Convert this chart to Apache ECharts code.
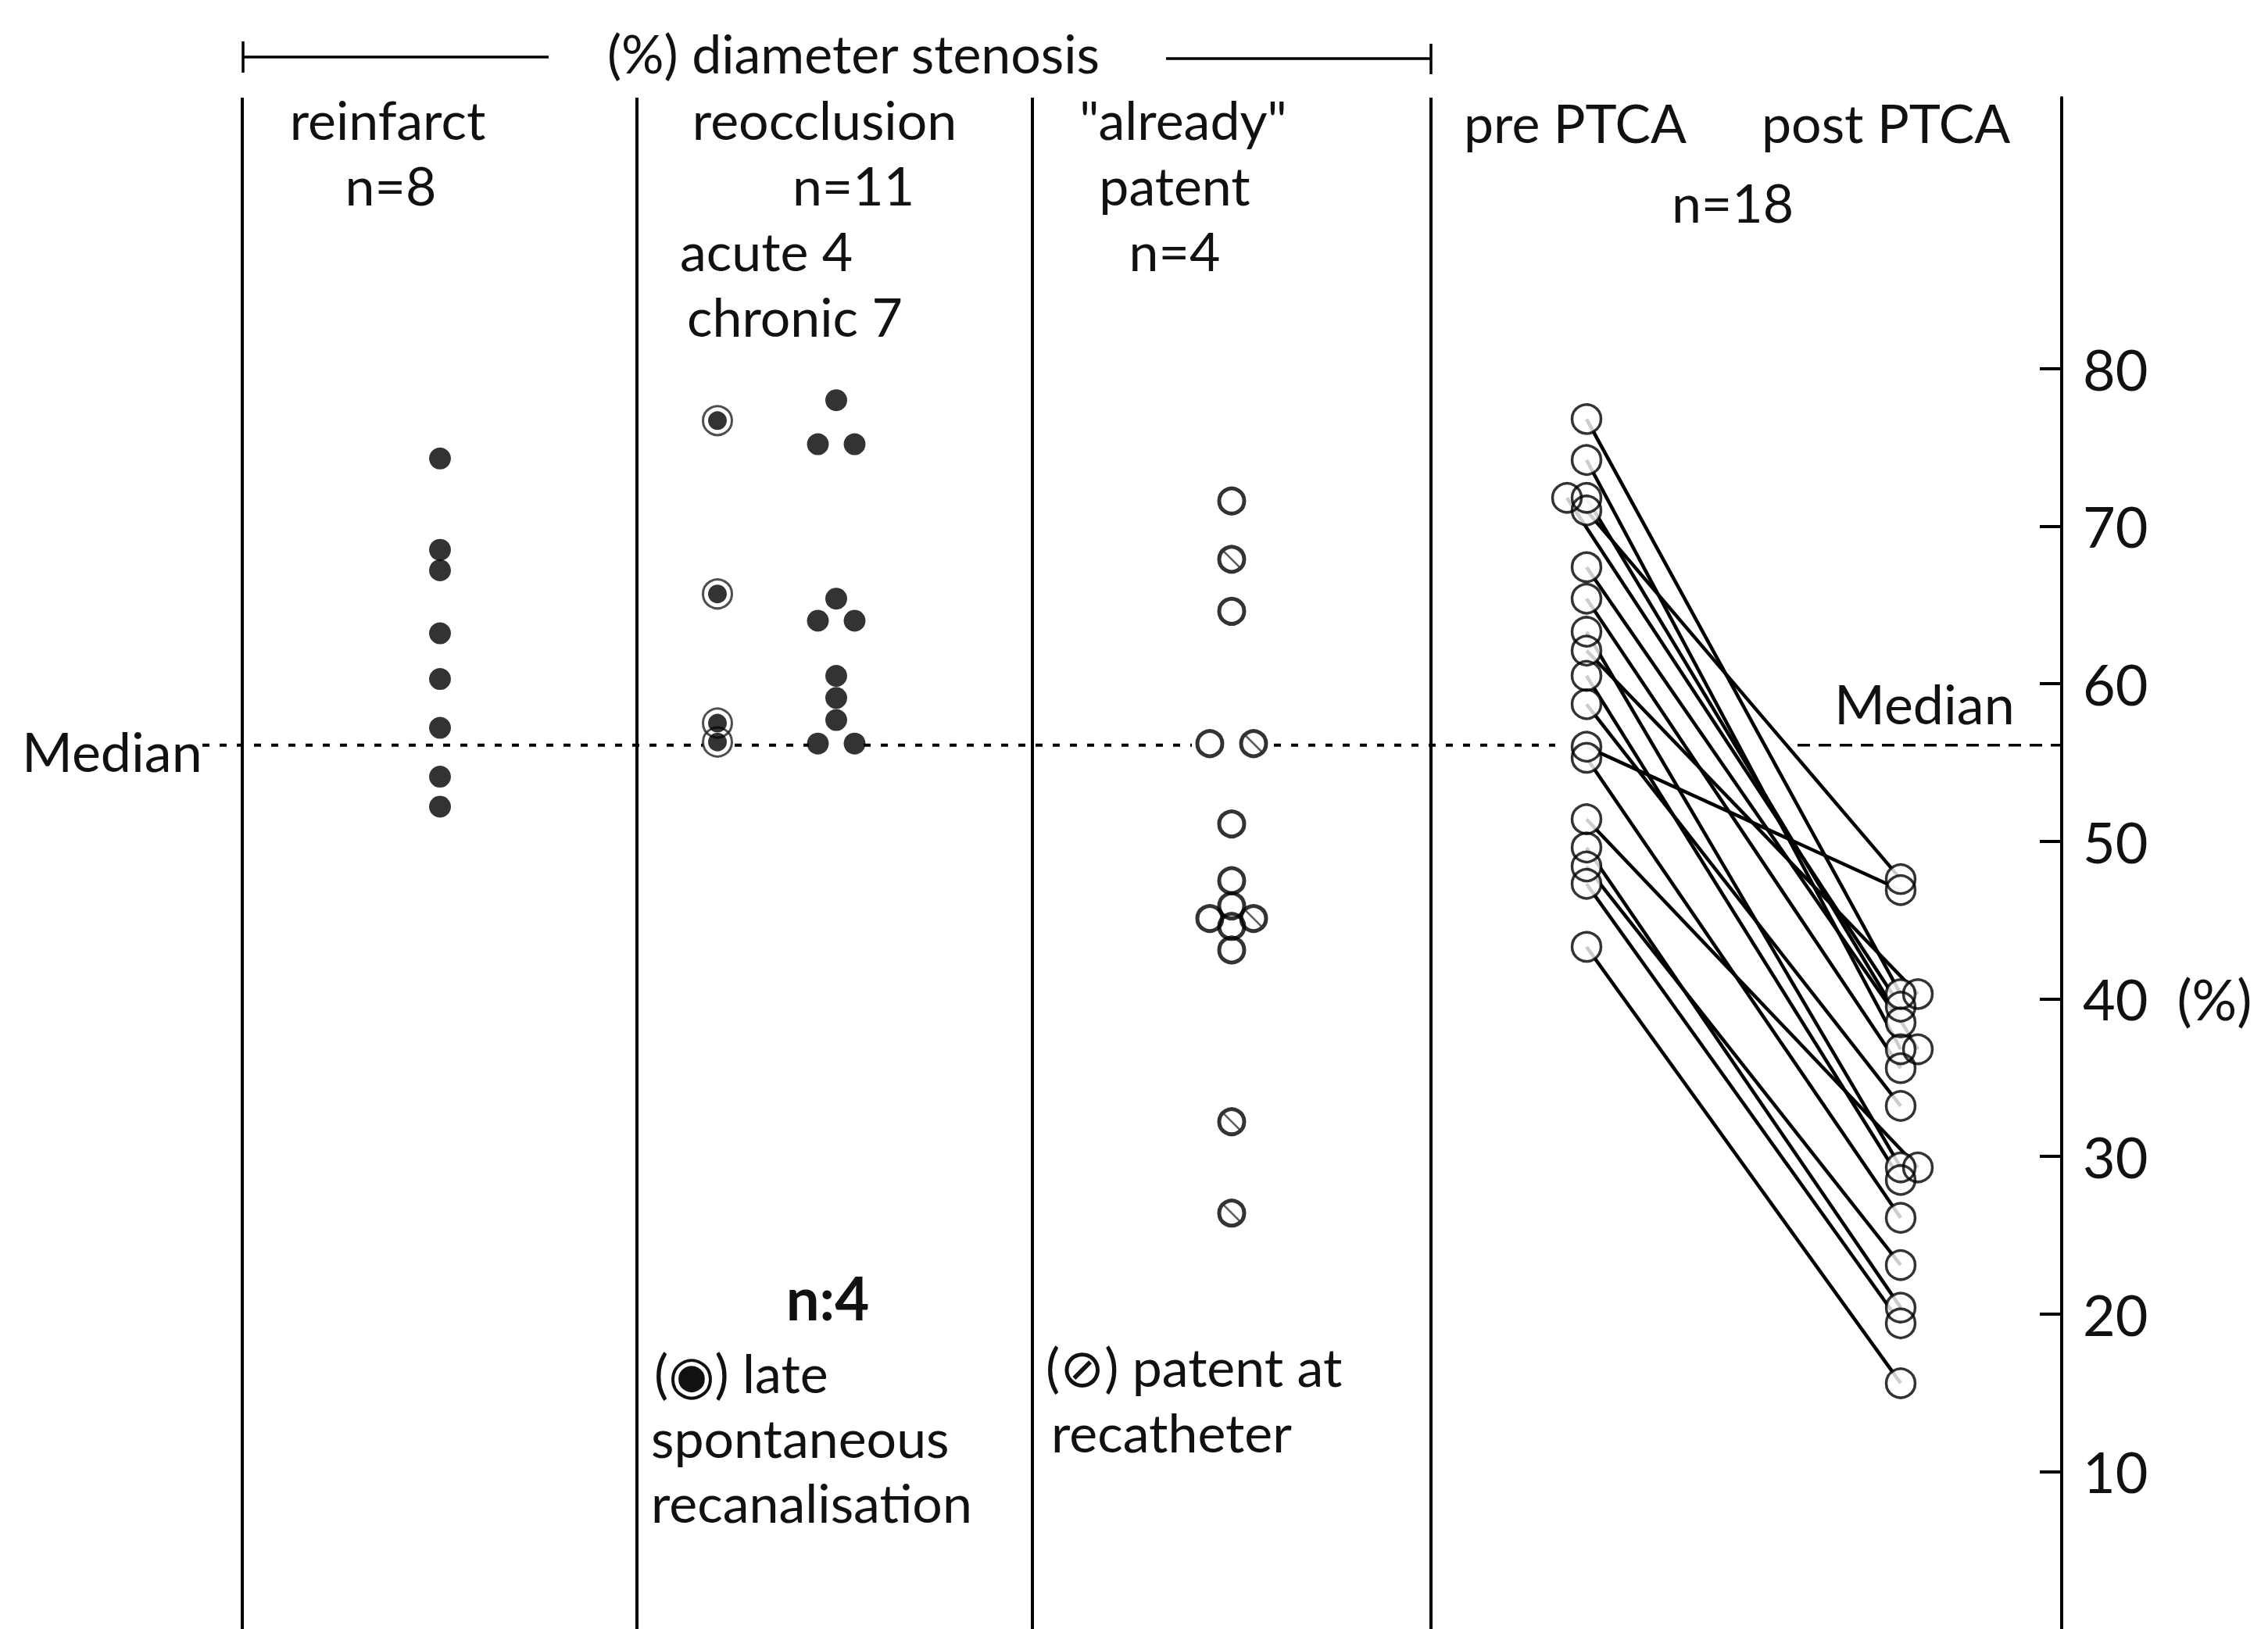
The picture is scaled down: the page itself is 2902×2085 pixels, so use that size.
<!DOCTYPE html>
<html><head><meta charset="utf-8">
<script src="https://cdn.jsdelivr.net/npm/echarts@6/dist/echarts.min.js"></script>
<style>html,body{margin:0;padding:0;background:#fff}#c{width:2902px;height:2085px}</style>
</head><body><div id="c"></div>
<script>
// ---------------- data (% diameter stenosis) ----------------
const yTicks = [10, 20, 30, 40, 50, 60, 70, 80];
const medianValue = 56.1;
const reinfarct = [74.3, 68.5, 67.2, 63.2, 60.3, 57.2, 54.1, 52.2];
const reocclusionLate = [76.7, 65.7, 57.5, 56.3];          // (◉) late spontaneous recanalisation
const reocclusionDots = [78.0, 75.2, 75.2, 65.4, 64.0, 64.0, 60.5, 59.1, 57.7, 56.2, 56.2];
const patentOpen = [71.6, 64.6, 56.2, 51.1, 47.5, 45.9, 45.1, 44.6, 43.1];
const patentRecath = [67.9, 56.2, 45.1, 32.2, 26.4];      // (⊘) patent at recatheter
const ptcaPre  = [76.8, 74.2, 71.8, 71.8, 71.0, 67.4, 65.4, 63.3, 62.1, 60.5, 58.7, 56.0, 55.3, 51.4, 49.6, 48.4, 47.3, 43.3];
const ptcaPost = [40.3, 36.8, 36.8, 39.5, 47.6, 38.5, 35.6, 29.3, 40.3, 28.5, 33.2, 46.9, 26.1, 29.3, 20.4, 23.1, 19.4, 15.6];

// ---------------- layout (pixels) ----------------
const L = {
  gridTop: 125, pxPerUnit: 20.306, yMax: 97.2, axisX: 2638,
  reinfarctX: 563, lateX: 918, chronicX: 1070, patentX: 1576, preX: 2030, postX: 2432,
  dividers: [310, 815, 1321, 1831],
  medianLeft: [[259, 900], [940, 1035], [1105, 1525], [1630, 1990]],
  medianRight: [[2300, 2638]],
  font: 'Lato, "DejaVu Sans", sans-serif', fs: 68
};

function dodge(values, spacing, mode) {
  const counts = {}, seen = {};
  values.forEach(v => counts[v] = (counts[v] || 0) + 1);
  return values.map(v => {
    const i = seen[v] = (seen[v] === undefined ? 0 : seen[v] + 1);
    const n = counts[v];
    return mode === 'sym' ? (i - (n - 1) / 2) * spacing : i * spacing * mode;
  });
}
const pts = (x0, vals, offs) => vals.map((v, i) => [x0 + (offs ? offs[i] : 0), v]);

const chronicOff = dodge(reocclusionDots, 47, 'sym');
const patentAll = patentOpen.concat(patentRecath);
const patentOff = dodge(patentAll, 56, 'sym');
const patentOpenPts = pts(L.patentX, patentOpen, patentOff.slice(0, patentOpen.length));
const patentRecPts = pts(L.patentX, patentRecath, patentOff.slice(patentOpen.length));
const preOff = dodge(ptcaPre, 25, -1);
const postOff = dodge(ptcaPost, 22, 1);
const prePts = pts(L.preX, ptcaPre, preOff);
const postPts = pts(L.postX, ptcaPost, postOff);

const black = '#000';
const ink = '#111';
const clear = 'rgba(0,0,0,0)';
const series = [];

// column dividers
series.push({
  type: 'scatter', data: [], silent: true,
  markLine: { silent: true, symbol: ['none', 'none'], label: { show: false },
    lineStyle: { type: 'solid', color: black, width: 4 },
    data: L.dividers.map(x => ({ xAxis: x })) }
});
// median segments
L.medianLeft.forEach(s => series.push({ type: 'line', symbol: 'none', silent: true, z: 1,
  data: [[s[0], medianValue], [s[1], medianValue]], lineStyle: { color: black, width: 4, type: [9, 13] } }));
L.medianRight.forEach(s => series.push({ type: 'line', symbol: 'none', silent: true, z: 1,
  data: [[s[0], medianValue], [s[1], medianValue]], lineStyle: { color: black, width: 3.5, type: [16, 11] } }));

// reinfarct
series.push({ type: 'scatter', symbol: 'circle', symbolSize: 28, z: 3,
  data: pts(L.reinfarctX, reinfarct), itemStyle: { color: black } });
// reocclusion late recanalisation (ring + dot)
series.push({ type: 'scatter', symbol: 'circle', symbolSize: 37, z: 3,
  data: pts(L.lateX, reocclusionLate), itemStyle: { color: clear, borderColor: '#222', borderWidth: 3 } });
series.push({ type: 'scatter', symbol: 'circle', symbolSize: 24, z: 4,
  data: pts(L.lateX, reocclusionLate), itemStyle: { color: black } });
// reocclusion dots
series.push({ type: 'scatter', symbol: 'circle', symbolSize: 28, z: 3,
  data: pts(L.chronicX, reocclusionDots, chronicOff), itemStyle: { color: black } });
// already patent
series.push({ type: 'scatter', symbol: 'circle', symbolSize: 32, z: 3,
  data: patentOpenPts.concat(patentRecPts), itemStyle: { color: clear, borderColor: black, borderWidth: 5 } });
series.push({ type: 'scatter', symbol: 'path://M0,0L10,10', symbolSize: 20, z: 4,
  data: patentRecPts, itemStyle: { color: clear, borderColor: '#333', borderWidth: 2.5 } });

// PTCA lines
prePts.forEach((p, i) => series.push({ type: 'line', symbol: 'none', silent: true, z: 2,
  data: [p, postPts[i]], lineStyle: { color: black, width: 4.5 } }));
// PTCA circles: white fill then outlines
series.push({ type: 'scatter', symbol: 'circle', symbolSize: 37, z: 5,
  data: prePts.concat(postPts), itemStyle: { color: '#fff' } });
series.push({ type: 'scatter', symbol: 'circle', symbolSize: 37, z: 6,
  data: prePts.concat(postPts), itemStyle: { color: clear, borderColor: black, borderWidth: 3.5 } });

function txt(text, x, y, align, extra) {
  return { type: 'text', x: x, y: y, silent: true,
    style: Object.assign({ text: text, align: align || 'center', verticalAlign: 'middle',
      fontSize: L.fs, fontFamily: L.font, fill: ink }, extra || {}) };
}
function ln(x1, y1, x2, y2, w) {
  return { type: 'line', silent: true, shape: { x1, y1, x2, y2 }, style: { stroke: black, lineWidth: w || 3.5 } };
}

const graphic = [
  ln(311, 73, 702, 73), ln(311, 53, 311, 93),
  ln(1492, 75, 1831, 75), ln(1831, 56, 1831, 95),
  txt('(%) diameter stenosis', 1092, 67),
  txt('reinfarct', 496, 152), txt('n=8', 500, 236),
  txt('reocclusion', 1055, 152), txt('n=11', 1092, 236),
  txt('acute 4', 870, 320, 'left'), txt('chronic 7', 879, 404, 'left'),
  txt('"already"', 1514, 152), txt('patent', 1503, 236), txt('n=4', 1503, 320),
  txt('pre PTCA', 1873, 156, 'left'), txt('post PTCA', 2254, 156, 'left'), txt('n=18', 2217, 258),
  txt('Median', 28, 961, 'left', { fontSize: 70 }), txt('Median', 2347, 900, 'left', { fontSize: 70 }),
  txt('n:4', 1059, 1660, 'center', { fontWeight: 'bold', fontSize: 76 }),
  txt('(◉) late', 837, 1756, 'left'), txt('spontaneous', 833, 1839, 'left'), txt('recanalisation', 833, 1922, 'left'),
  txt('(⊘) patent at', 1338, 1748, 'left'), txt('recatheter', 1345, 1832, 'left')
];

const chart = echarts.init(document.getElementById('c'), null, { renderer: 'svg' });
chart.setOption({
  backgroundColor: '#fff',
  animation: false,
  grid: { left: 0, width: L.axisX, top: L.gridTop, height: L.yMax * L.pxPerUnit },
  xAxis: { type: 'value', min: 0, max: L.axisX, show: false },
  yAxis: {
    type: 'value', position: 'right', min: 0, max: L.yMax,
    axisLine: { show: true, onZero: false, lineStyle: { color: black, width: 4 } },
    axisTick: { show: true, inside: true, length: 28, lineStyle: { color: black, width: 4 }, customValues: yTicks },
    axisLabel: { customValues: yTicks, margin: 27, fontSize: 72, fontFamily: L.font, color: ink,
      formatter: v => v === 40 ? '40  (%)' : String(v) },
    splitLine: { show: false }
  },
  graphic: graphic,
  series: series
});
</script></body></html>
